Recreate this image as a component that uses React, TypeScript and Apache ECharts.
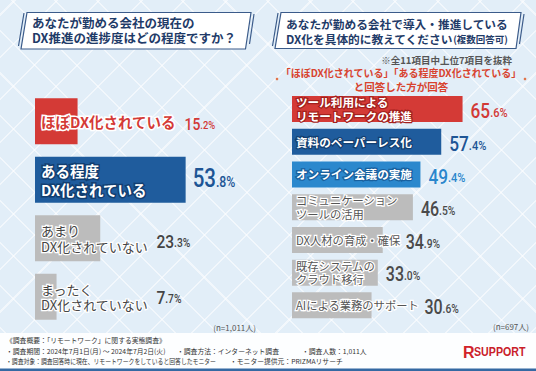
import React, { useEffect, useRef } from "react";
import * as echarts from "echarts";

const CJK = '"Noto Sans CJK JP", "Noto Sans", sans-serif';
const NUM = 'Roboto, "Liberation Sans", sans-serif';

// ---- data ----
const leftCategories = [
  "ほぼDX化されている",
  "ある程度\nDX化されている",
  "あまり\nDX化されていない",
  "まったく\nDX化されていない",
];
const leftValues = [15.2, 53.8, 23.3, 7.7];

const rightCategories = [
  "ツール利用による\nリモートワークの推進",
  "資料のペーパーレス化",
  "オンライン会議の実施",
  "コミュニケーション\nツールの活用",
  "DX人材の育成・確保",
  "既存システムの\nクラウド移行",
  "AIによる業務のサポート",
];
const rightValues = [65.6, 57.4, 49.4, 46.5, 34.9, 33.0, 30.6];

const leftTitleLines = ["あなたが勤める会社の現在の", "DX推進の進捗度はどの程度ですか？"];
const rightTitleLine1 = "あなたが勤める会社で導入・推進している";
const rightTitleLine2 = "DX化を具体的に教えてください";
const rightTitleNote = "(複数回答可)";
const rightExtract = "※全11項目中上位7項目を抜粋";
const rightCondition = ["「ほぼDX化されている」「ある程度DX化されている」", "と回答した方が回答"];
const leftSample = "(n=1,011人)";
const rightSample = "(n=697人)";
const footerTitle = "《調査概要：「リモートワーク」に関する実態調査》";
const footerRow1 = ["・調査期間：2024年7月1日(月) 〜 2024年7月2日(火)", "・調査方法：インターネット調査", "・調査人数：1,011人"];
const footerRow2 = ["・調査対象：調査回答時に現在、リモートワークをしていると回答したモニター", "・モニター提供元：PRIZMAリサーチ"];

// ---- styles ----
const RED = "#d43a36";
const NAVY = "#1f5c9d";
const SKY = "#2b88cd";
const GRAY = "#bcbcbc";
const TITLE = "#1f3b68";

type BarStyle = {
  bar: string;
  nameFill: string;
  nameStroke: string;
  strokeW: number;
  nameSize: number;
  nameWeight: string;
  lineH: number;
  valColor: string;
  big: number;
  small: number;
  valDy: number;
};

const leftStyles: BarStyle[] = [
  { bar: RED, nameFill: RED, nameStroke: "#fff", strokeW: 3, nameSize: 14.5, nameWeight: "bold", lineH: 18, valColor: "#d23936", big: 17, small: 11.5, valDy: 3 },
  { bar: NAVY, nameFill: "#fff", nameStroke: "#123e70", strokeW: 3, nameSize: 14.5, nameWeight: "bold", lineH: 18.5, valColor: "#1d5595", big: 25, small: 15, valDy: -1 },
  { bar: GRAY, nameFill: "#454545", nameStroke: "#fff", strokeW: 2.5, nameSize: 13, nameWeight: "normal", lineH: 15.5, valColor: "#444", big: 19, small: 12.5, valDy: 3 },
  { bar: GRAY, nameFill: "#454545", nameStroke: "#fff", strokeW: 2.5, nameSize: 13, nameWeight: "normal", lineH: 15.5, valColor: "#444", big: 19, small: 12.5, valDy: 1 },
];

const rightColored = (bar: string, stroke: string, val: string): BarStyle => ({
  bar, nameFill: "#fff", nameStroke: stroke, strokeW: 2.5, nameSize: 11.6, nameWeight: "bold", lineH: 13.8, valColor: val, big: 21, small: 13.5, valDy: 2,
});
const rightGray: BarStyle = {
  bar: GRAY, nameFill: "#555", nameStroke: "#fff", strokeW: 2.5, nameSize: 11.3, nameWeight: "normal", lineH: 13.5, valColor: "#4a4a4a", big: 19.5, small: 12.5, valDy: 2,
};
const rightStyles: BarStyle[] = [
  rightColored(RED, "#a31f1d", "#d23936"),
  rightColored(NAVY, "#123e70", "#1d5595"),
  rightColored(SKY, "#18609e", "#2a86cc"),
  rightGray,
  rightGray,
  rightGray,
  rightGray,
];

let measureCtx: CanvasRenderingContext2D | null = null;
function measure(text: string, font: string): number {
  if (!measureCtx) measureCtx = document.createElement("canvas").getContext("2d");
  if (!measureCtx) return text.length * 12;
  measureCtx.font = font;
  return Math.max(...text.split("\n").map((l) => measureCtx!.measureText(l).width));
}

function makeRenderItem(names: string[], styles: BarStyle[], barH: number, namePad: number, barGap: number, textGap: number) {
  return (params: any, api: any) => {
    const i = params.dataIndex;
    const v = api.value(0) as number;
    const c = api.value(1) as number;
    const p0 = api.coord([0, c]);
    const p1 = api.coord([v, c]);
    const s = styles[i];
    const name = names[i];
    const nameX = p0[0] + namePad;
    const nw = measure(name, `${s.nameWeight} ${s.nameSize}px ${CJK}`) + s.strokeW / 2;
    const valX = Math.max(p1[0] + barGap, nameX + nw + textGap);
    const [ip, dp] = v.toFixed(1).split(".");
    return {
      type: "group",
      children: [
        {
          type: "rect",
          shape: { x: p0[0], y: p0[1] - barH / 2, width: p1[0] - p0[0], height: barH },
          style: { fill: s.bar },
        },
        {
          type: "text",
          x: nameX,
          y: p0[1],
          style: {
            text: name,
            fill: s.nameFill,
            stroke: s.nameStroke,
            lineWidth: s.strokeW,
            fontSize: s.nameSize,
            fontWeight: s.nameWeight,
            fontFamily: CJK,
            lineHeight: s.lineH,
            align: "left",
            verticalAlign: "middle",
          },
        },
        {
          type: "text",
          x: valX,
          y: p0[1] + s.valDy,
          scaleX: 0.82,
          style: {
            text: `{b|${ip}}{s|.${dp}%}`,
            align: "left",
            verticalAlign: "middle",
            rich: {
              b: { fontSize: s.big, fontFamily: NUM, fontWeight: 500, fill: s.valColor, lineHeight: s.big, verticalAlign: "bottom" },
              s: { fontSize: s.small, fontFamily: NUM, fontWeight: 500, fill: s.valColor, lineHeight: s.small, verticalAlign: "bottom", padding: [0, 0, 2, 0] },
            },
          },
        },
      ],
    };
  };
}

function buildOption(): any {
  const boxStroke = "#3b5b8a";
  const foot = (text: string, x: number, y: number, scaleX = 1) => ({
    type: "text", x, y, scaleX,
    style: { text, fill: "#333", fontSize: 6.8, fontFamily: CJK, align: "left", verticalAlign: "middle" },
  });
  const graphic: any[] = [
    // title boxes
    { type: "polygon", shape: { points: [[27, 12.5], [251, 12.5], [245.5, 49], [21, 49]] }, style: { fill: "#fff", stroke: boxStroke, lineWidth: 1.2 } },
    { type: "line", shape: { x1: 24, y1: 13, x2: 18.5, y2: 46 }, style: { stroke: boxStroke, lineWidth: 1.2 } },
    { type: "line", shape: { x1: 254, y1: 14, x2: 249.5, y2: 44 }, style: { stroke: boxStroke, lineWidth: 1.2 } },
    { type: "polygon", shape: { points: [[281, 12.5], [521, 12.5], [516, 48.5], [275, 48.5]] }, style: { fill: "#fff", stroke: boxStroke, lineWidth: 1.2 } },
    { type: "line", shape: { x1: 278, y1: 13, x2: 272.5, y2: 46 }, style: { stroke: boxStroke, lineWidth: 1.2 } },
    { type: "line", shape: { x1: 524, y1: 14, x2: 519.5, y2: 44 }, style: { stroke: boxStroke, lineWidth: 1.2 } },
    // titles
    {
      type: "text", x: 32, y: 29.5,
      style: { text: leftTitleLines.join("\n"), fill: TITLE, fontSize: 12.5, fontWeight: "bold", fontFamily: CJK, lineHeight: 15, align: "left", verticalAlign: "middle" },
    },
    {
      type: "text", x: 286, y: 23,
      style: { text: rightTitleLine1, fill: TITLE, fontSize: 11.7, fontWeight: "bold", fontFamily: CJK, align: "left", verticalAlign: "middle" },
    },
    {
      type: "text", x: 286, y: 37.5,
      style: {
        text: `{a|${rightTitleLine2}}{n|${rightTitleNote}}`,
        align: "left", verticalAlign: "middle",
        rich: {
          a: { fill: TITLE, fontSize: 11.7, fontWeight: "bold", fontFamily: CJK, verticalAlign: "bottom", lineHeight: 14 },
          n: { fill: TITLE, fontSize: 9.5, fontWeight: "bold", fontFamily: CJK, verticalAlign: "bottom", lineHeight: 12, padding: [0, 0, 1, 0] },
        },
      },
    },
    {
      type: "text", x: 512, y: 60,
      style: { text: rightExtract, fill: "#555", fontSize: 9.5, fontWeight: "bold", fontFamily: CJK, align: "right", verticalAlign: "middle" },
    },
    {
      type: "text", x: 401, y: 72.5,
      style: { text: rightCondition[0], fill: "#d8432f", fontSize: 10, fontWeight: "bold", fontFamily: CJK, align: "center", verticalAlign: "middle" },
    },
    {
      type: "text", x: 401, y: 86.5,
      style: { text: rightCondition[1], fill: "#d8432f", fontSize: 10.5, fontWeight: "bold", fontFamily: CJK, align: "center", verticalAlign: "middle" },
    },
    { type: "circle", shape: { cx: 277, cy: 79, r: 1.3 }, style: { fill: "#e0734a" } },
    { type: "circle", shape: { cx: 525, cy: 79, r: 1.3 }, style: { fill: "#e0734a" } },
    // sample sizes
    {
      type: "text", x: 256, y: 327,
      style: { text: leftSample, fill: "#555", fontSize: 8, fontFamily: CJK, align: "right", verticalAlign: "middle" },
    },
    {
      type: "text", x: 529, y: 326,
      style: { text: rightSample, fill: "#555", fontSize: 8, fontFamily: CJK, align: "right", verticalAlign: "middle" },
    },
    // footer
    { type: "rect", shape: { x: 0, y: 333, width: 536, height: 36 }, style: { fill: "#fdfeff" } },
    { type: "rect", shape: { x: 0, y: 368.5, width: 536, height: 2.5 }, style: { fill: "#3569a3" } },
    foot(footerTitle, 6, 340),
    foot(footerRow1[0], 6, 350.5),
    foot(footerRow1[1], 177, 350.5),
    foot(footerRow1[2], 302, 350.5),
    foot(footerRow2[0], 6, 361, 0.86),
    foot(footerRow2[1], 230, 361),
    // logo
    { type: "text", x: 463, y: 352, style: { text: "R", fill: "#d2232a", fontSize: 16, fontWeight: "bold", fontFamily: '"Liberation Sans", sans-serif', align: "left", verticalAlign: "middle" } },
    { type: "text", x: 474, y: 352, scaleX: 0.82, style: { text: "SUPPORT", fill: "#c9202a", fontSize: 13, fontWeight: "bold", fontFamily: '"Liberation Sans", sans-serif', align: "left", verticalAlign: "middle" } },
  ];

  return {
    animation: false,
    backgroundColor: "transparent",
    grid: [
      { left: 35, top: 92, width: 224, height: 234 },
      { left: 292, top: 92.7, width: 208, height: 229 },
    ],
    xAxis: [
      { type: "value", gridIndex: 0, min: 0, max: 80, show: false },
      { type: "value", gridIndex: 1, min: 0, max: 80, show: false },
    ],
    yAxis: [
      { type: "category", gridIndex: 0, data: leftCategories, inverse: true, show: false },
      { type: "category", gridIndex: 1, data: rightCategories, inverse: true, show: false },
    ],
    series: [
      {
        type: "custom",
        xAxisIndex: 0,
        yAxisIndex: 0,
        data: leftValues.map((v, i) => [v, i]),
        encode: { x: 0, y: 1 },
        renderItem: makeRenderItem(leftCategories, leftStyles, 46, 6, 7, 7),
      },
      {
        type: "custom",
        xAxisIndex: 1,
        yAxisIndex: 1,
        data: rightValues.map((v, i) => [v, i]),
        encode: { x: 0, y: 1 },
        renderItem: makeRenderItem(rightCategories, rightStyles, 26, 4, 8, 4),
      },
    ],
    graphic,
  };
}

export default function App() {
  const ref = useRef<HTMLDivElement>(null);
  useEffect(() => {
    if (!ref.current) return;
    const chart = echarts.init(ref.current, null, { renderer: "svg" });
    chart.setOption(buildOption());
    return () => chart.dispose();
  }, []);
  const lattice = "rgba(255,255,255,0.55)";
  return (
    <div
      ref={ref}
      style={{
        position: "fixed",
        left: 0,
        top: 0,
        width: 536,
        height: 371,
        backgroundColor: "#e2eef8",
        backgroundImage: `repeating-linear-gradient(45deg, ${lattice} 0px, ${lattice} 1.5px, transparent 1.5px, transparent 30px), repeating-linear-gradient(-45deg, ${lattice} 0px, ${lattice} 1.5px, transparent 1.5px, transparent 30px)`,
      }}
    />
  );
}
